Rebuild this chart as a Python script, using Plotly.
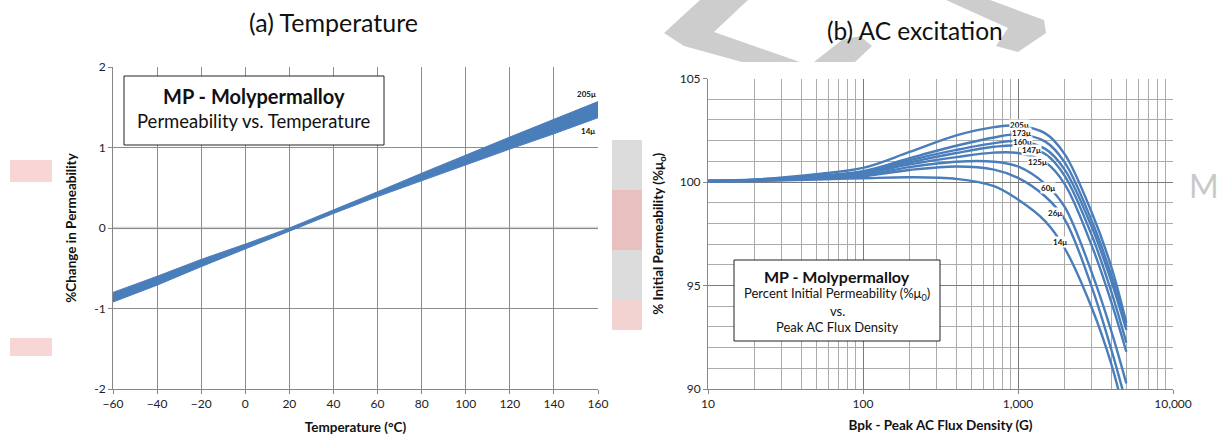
import math
import plotly.graph_objects as go

W, H = 1220, 438
def px(x): return x / W
def py(y): return 1 - y / H

# ---------------- data: (a) temperature ----------------
temps = [-60, -40, -20, 0, 20, 40, 60, 80, 100, 120, 140, 160]
band_205 = [-0.80, -0.60, -0.39, -0.20, 0.00, 0.22, 0.45, 0.68, 0.90, 1.13, 1.35, 1.57]
band_14 = [-0.92, -0.71, -0.48, -0.26, -0.03, 0.18, 0.39, 0.59, 0.78, 0.98, 1.17, 1.37]

# ---------------- data: (b) AC excitation ----------------
bpk = [10, 20, 50, 100, 200, 400, 700, 1000, 1500, 2000, 3000, 4000, 5000]
mu205 = [100.05, 100.12, 100.38, 100.68, 101.45, 102.25, 102.65, 102.72, 102.35, 101.35, 98.5, 95.9, 93.2]
mu173 = [100.05, 100.10, 100.30, 100.52, 101.15, 101.75, 102.15, 102.30, 101.95, 100.95, 98.1, 95.5, 93.0]
mu160 = [100.05, 100.10, 100.27, 100.47, 101.05, 101.55, 101.88, 101.97, 101.60, 100.60, 97.8, 95.2, 92.85]
mu147 = [100.05, 100.09, 100.25, 100.43, 100.95, 101.40, 101.70, 101.75, 101.35, 100.30, 97.4, 94.7, 92.24]
mu125 = [100.05, 100.08, 100.22, 100.40, 100.85, 101.20, 101.42, 101.40, 100.95, 99.90, 96.9, 94.2, 91.8]
mu60 = [100.05, 100.07, 100.18, 100.33, 100.72, 100.98, 100.98, 100.75, 99.90, 98.80, 95.6, 92.8, 90.27]
mu26 = [100.05, 100.07, 100.15, 100.28, 100.58, 100.75, 100.60, 100.20, 99.30, 98.20, 94.9, 91.9, 89.3]
mu14 = [100.03, 100.05, 100.12, 100.18, 100.23, 100.15, 99.80, 99.15, 98.10, 96.80, 93.9, 91.2, 88.4]
curve_names = ["205μ", "173μ", "160μ", "147μ", "125μ", "60μ", "26μ", "14μ"]
curve_values = [mu205, mu173, mu160, mu147, mu125, mu60, mu26, mu14]
label_b = [1030, 1055, 1075, 1220, 1340, 1560, 1740, 1860]
label_v = [102.75, 102.35, 101.95, 101.55, 100.95, 99.70, 98.50, 97.10]

x_ticks_b = [10, 100, 1000, 10000]
x_ticktext_b = ["10", "100", "1,000", "10,000"]
x_minor_b = [20, 30, 40, 50, 60, 70, 80, 90, 200, 300, 400, 500, 600, 700, 800, 900,
             2000, 3000, 4000, 5000, 6000, 7000, 8000, 9000]

BLUE = "rgb(74,126,187)"
FONT = "Lato"

fig = go.Figure()

# band (a)
fig.add_trace(go.Scatter(x=temps, y=band_205, mode="lines", line=dict(color=BLUE, width=1),
                         xaxis="x", yaxis="y", showlegend=False, hoverinfo="skip"))
fig.add_trace(go.Scatter(x=temps, y=band_14, mode="lines", line=dict(color=BLUE, width=1),
                         fill="tonexty", fillcolor=BLUE,
                         xaxis="x", yaxis="y", showlegend=False, hoverinfo="skip"))

# curves (b)
for name, vals in zip(curve_names, curve_values):
    fig.add_trace(go.Scatter(x=bpk, y=vals, mode="lines", name=name,
                             line=dict(color=BLUE, width=2.4, shape="spline", smoothing=1.0),
                             xaxis="x2", yaxis="y2", showlegend=False, hoverinfo="skip"))

grid = "#8c8c8c"
axis_common = dict(showline=True, linecolor="#868686", linewidth=1, ticks="outside",
                   ticklen=4, tickcolor="#868686", tickfont=dict(family=FONT, size=12, color="#222"),
                   zeroline=False, automargin=False)
title_font = dict(family=FONT, size=13.5, color="#111")

fig.update_layout(
    width=W, height=H, autosize=False,
    margin=dict(l=0, r=0, t=0, b=0, pad=0, autoexpand=False),
    paper_bgcolor="white", plot_bgcolor="white",
    xaxis=dict(domain=[px(113), px(598)], range=[-60, 160], tickvals=temps,
               showgrid=True, gridcolor=grid, gridwidth=1, anchor="y",
               title=dict(text="<b>Temperature (°C)</b>", font=title_font, standoff=12),
               **axis_common),
    yaxis=dict(domain=[py(389), py(67)], range=[-2, 2], tickvals=[-2, -1, 0, 1, 2],
               ticktext=["-2", "-1", "0", "1", "2"],
               showgrid=True, gridcolor=grid, gridwidth=1, anchor="x",
               title=dict(text="<b>%Change in Permeability</b>", font=title_font, standoff=14),
               **axis_common),
    xaxis2=dict(domain=[px(708), px(1173)], type="log", range=[1, 4],
                tickvals=x_ticks_b, ticktext=x_ticktext_b,
                showgrid=True, gridcolor="#7a7a7a", gridwidth=1, anchor="y2",
                minor=dict(tickvals=x_minor_b, showgrid=True, gridcolor="#ababab", gridwidth=1,
                           ticks=""),
                title=dict(text="<b>Bpk - Peak AC Flux Density (G)</b>", font=title_font, standoff=10),
                **axis_common),
    yaxis2=dict(domain=[py(389), py(78.5)], range=[90, 105], tickvals=[90, 95, 100, 105],
                showgrid=True, gridcolor="#7a7a7a", gridwidth=1, anchor="x2",
                minor=dict(dtick=1, showgrid=True, gridcolor="#ababab", gridwidth=1, ticks=""),
                title=dict(text="<b>% Initial Permeability (%μ<sub>o</sub>)</b>", font=title_font,
                           standoff=12),
                **axis_common),
)

# zero line in (a): light gray
fig.add_shape(type="line", xref="x", yref="y", x0=-60, x1=160, y0=0, y1=0,
              line=dict(color="#d6d6d6", width=2.5), layer="below")

# faint watermark fragments visible around the charts
def poly(points):
    return "M " + " L ".join(f"{px(x):.5f},{py(y):.5f}" for x, y in points) + " Z"

WM = "#cdcdcd"
for pts in [
    [(700, 0), (748, 0), (714, 32), (800, 62), (742, 62), (684, 46), (664, 33)],
    [(842, 40), (860, 36), (872, 46), (855, 62), (814, 62)],
    [(946, 0), (990, 0), (1044, 20), (1046, 33), (1018, 52), (996, 46), (1008, 28)],
]:
    fig.add_shape(type="path", xref="paper", yref="paper", path=poly(pts),
                  fillcolor=WM, line=dict(width=0), layer="below")
for (x0, y0, x1, y1, c) in [
    (612, 140, 642, 330, "#dcdcdc"),
    (612, 190, 642, 250, "#e9c0c0"),
    (612, 300, 642, 330, "#f3d2d2"),
    (10, 160, 52, 182, "#f8d6d6"),
    (10, 338, 52, 356, "#f8d6d6"),
]:
    fig.add_shape(type="rect", xref="paper", yref="paper", x0=px(x0), x1=px(x1), y0=py(y1), y1=py(y0),
                  fillcolor=c, line=dict(width=0), layer="below")

ann = []
def pann(text, x, y, size, bold=False, color="#111"):
    ann.append(dict(text=("<b>%s</b>" % text) if bold else text, x=px(x), y=py(y),
                    xref="paper", yref="paper", showarrow=False, xanchor="center", yanchor="middle",
                    font=dict(family=FONT, size=size, color=color)))

# watermark letter
pann("M", 1204, 186, 32, color="#c9c9c9")

# titles
pann("(a) Temperature", 333, 22, 25)
pann("(b) AC excitation", 915, 30, 24.5)

# boxes
fig.add_shape(type="rect", xref="paper", yref="paper", x0=px(124), x1=px(384), y0=py(145), y1=py(76),
              line=dict(color="#222", width=1), fillcolor="white", layer="above")
pann("MP - Molypermalloy", 254, 96, 20, bold=True)
pann("Permeability vs. Temperature", 254, 121, 18.5)

fig.add_shape(type="rect", xref="paper", yref="paper", x0=px(734), x1=px(940), y0=py(341), y1=py(260),
              line=dict(color="#222", width=1), fillcolor="white", layer="above")
pann("MP - Molypermalloy", 837, 276, 16, bold=True)
pann("Percent Initial Permeability (%μ<sub>0</sub>)", 837, 294, 13)
pann("vs.", 837, 311, 13)
pann("Peak AC Flux Density", 837, 327, 13)

# band labels (a)
ann.append(dict(text="<b>205μ</b>", x=155, y=1.66, xref="x", yref="y", showarrow=False,
                xanchor="center", yanchor="middle", font=dict(family=FONT, size=8, color="#111")))
ann.append(dict(text="<b>14μ</b>", x=155.5, y=1.2, xref="x", yref="y", showarrow=False,
                xanchor="center", yanchor="middle", font=dict(family=FONT, size=8, color="#111")))

# curve labels (b)
for name, b, v in zip(curve_names, label_b, label_v):
    ann.append(dict(text="<b>" + name + "</b>", x=math.log10(b), y=v, xref="x2", yref="y2",
                    showarrow=False, bgcolor="white", borderpad=0, xanchor="center", yanchor="middle",
                    font=dict(family=FONT, size=8, color="#111")))

fig.update_layout(annotations=ann)

fig.write_html("out.html", config={"responsive": False, "displayModeBar": False},
               post_script="document.body.style.margin='0';document.body.style.overflow='hidden';")
